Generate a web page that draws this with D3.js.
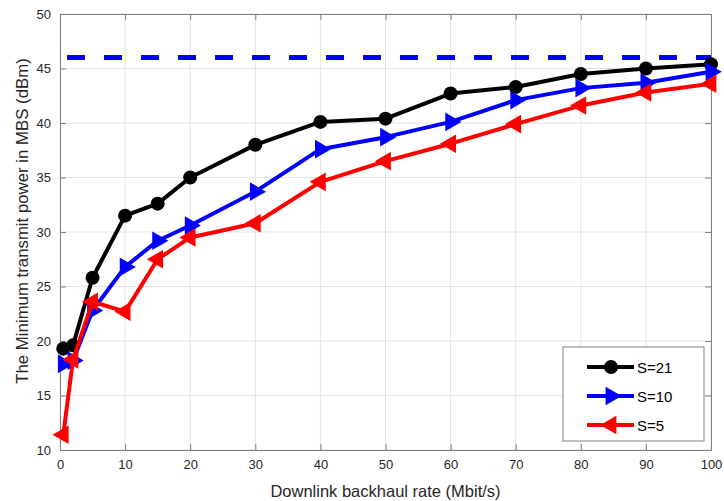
<!DOCTYPE html>
<html>
<head>
<meta charset="utf-8">
<script src="https://cdn.jsdelivr.net/npm/d3@7"></script>
<style>
  body { margin: 0; background: #fff; }
  svg { font-family: "Liberation Sans", Arial, sans-serif; }
  .grid line { stroke: #e3e3e3; stroke-width: 1; }
  .axis path, .axis line { stroke: #808080; }
  .axis text { fill: #262626; font-size: 13px; }
</style>
</head>
<body>
<svg width="724" height="501"></svg>
<script>
var rates = [0.5, 2, 5, 10, 15, 20, 30, 40, 50, 60, 70, 80, 90, 100];
var s21 = [19.3, 19.6, 25.8, 31.5, 32.6, 35.0, 38.0, 40.1, 40.4, 42.7, 43.3, 44.5, 45.0, 45.4];
var s10 = [17.9, 18.2, 22.8, 26.8, 29.2, 30.6, 33.7, 37.6, 38.7, 40.1, 42.1, 43.2, 43.7, 44.7];
var s5  = [11.4, 18.3, 23.6, 22.7, 27.5, 29.5, 30.8, 34.6, 36.5, 38.1, 39.9, 41.6, 42.8, 43.6];
var maxPower = 46;
var xTicks = [0, 10, 20, 30, 40, 50, 60, 70, 80, 90, 100];
var yTicks = [10, 15, 20, 25, 30, 35, 40, 45, 50];
var seriesNames = ["S=21", "S=10", "S=5"];

var svg = d3.select("svg"),
    margin = {top: 14, right: 13, bottom: 51, left: 60},
    width = +svg.attr("width") - margin.left - margin.right,
    height = +svg.attr("height") - margin.top - margin.bottom;

var x = d3.scaleLinear().domain([0, 100]).range([0, width]);
var y = d3.scaleLinear().domain([10, 50]).range([height, 0]);

var g = svg.append("g")
    .attr("transform", "translate(" + margin.left + "," + margin.top + ")");

// grid
g.append("g").attr("class", "grid")
  .selectAll("line.gx").data(xTicks).enter().append("line")
    .attr("x1", function(d) { return x(d); }).attr("x2", function(d) { return x(d); })
    .attr("y1", 0).attr("y2", height);
g.append("g").attr("class", "grid")
  .selectAll("line.gy").data(yTicks).enter().append("line")
    .attr("y1", function(d) { return y(d); }).attr("y2", function(d) { return y(d); })
    .attr("x1", 0).attr("x2", width);

// axes (box with ticks on all sides)
g.append("g").attr("class", "axis")
  .attr("transform", "translate(0," + height + ")")
  .call(d3.axisBottom(x).tickValues(xTicks).tickSize(-6).tickPadding(10).tickSizeOuter(0));
g.append("g").attr("class", "axis")
  .call(d3.axisLeft(y).tickValues(yTicks).tickSize(-6).tickPadding(9).tickSizeOuter(0));
g.append("g").attr("class", "axis")
  .call(d3.axisTop(x).tickValues(xTicks).tickSize(-6).tickFormat("").tickSizeOuter(0));
g.append("g").attr("class", "axis")
  .attr("transform", "translate(" + width + ",0)")
  .call(d3.axisRight(y).tickValues(yTicks).tickSize(-6).tickFormat("").tickSizeOuter(0));

// dashed max power line
g.append("line")
  .attr("x1", x(0) + 7).attr("x2", x(100))
  .attr("y1", y(maxPower)).attr("y2", y(maxPower))
  .attr("stroke", "#0000ff").attr("stroke-width", 5)
  .attr("stroke-dasharray", "18,19");

var series = [
  {name: seriesNames[0], values: s21, color: "#000000", marker: "circle"},
  {name: seriesNames[1], values: s10, color: "#0000ff", marker: "right"},
  {name: seriesNames[2], values: s5,  color: "#ff0000", marker: "left"}
];

var line = d3.line()
  .x(function(d, i) { return x(rates[i]); })
  .y(function(d) { return y(d); });

function drawMarker(sel, kind, color) {
  if (kind == "circle") {
    sel.append("circle").attr("r", 7).attr("fill", color);
  } else {
    var rot = kind == "right" ? 90 : -90;
    sel.append("path")
      .attr("d", d3.symbol().type(d3.symbolTriangle).size(150)())
      .attr("transform", "rotate(" + rot + ")")
      .attr("fill", color);
  }
}

series.forEach(function(s) {
  g.append("path")
    .datum(s.values)
    .attr("fill", "none")
    .attr("stroke", s.color)
    .attr("stroke-width", 4)
    .attr("stroke-linejoin", "round")
    .attr("d", line);
  g.selectAll(null)
    .data(s.values)
    .enter().append("g")
      .attr("transform", function(d, i) { return "translate(" + x(rates[i]) + "," + y(d) + ")"; })
      .each(function() { drawMarker(d3.select(this), s.marker, s.color); });
});

// legend
var lg = svg.append("g").attr("transform", "translate(563,347)");
lg.append("rect")
  .attr("width", 141).attr("height", 94)
  .attr("fill", "#fff").attr("stroke", "#808080").attr("stroke-width", 1);
series.forEach(function(s, i) {
  var row = lg.append("g").attr("transform", "translate(0," + (20 + i * 29) + ")");
  row.append("line")
    .attr("x1", 24).attr("x2", 71).attr("y1", 0).attr("y2", 0)
    .attr("stroke", s.color).attr("stroke-width", 4);
  var m = row.append("g").attr("transform", "translate(48,0)");
  drawMarker(m, s.marker, s.color);
  row.append("text")
    .attr("x", 74).attr("y", 6)
    .attr("font-size", "15px").attr("fill", "#000")
    .text(s.name);
});

// axis titles
svg.append("text")
  .attr("x", margin.left + width / 2).attr("y", 497)
  .attr("text-anchor", "middle").attr("font-size", "16.5px").attr("fill", "#262626")
  .text("Downlink backhaul rate (Mbit/s)");
svg.append("text")
  .attr("transform", "translate(28,221) rotate(-90)")
  .attr("text-anchor", "middle").attr("font-size", "16.8px").attr("fill", "#262626")
  .text("The Minimum transmit power in MBS (dBm)");
</script>
</body>
</html>
